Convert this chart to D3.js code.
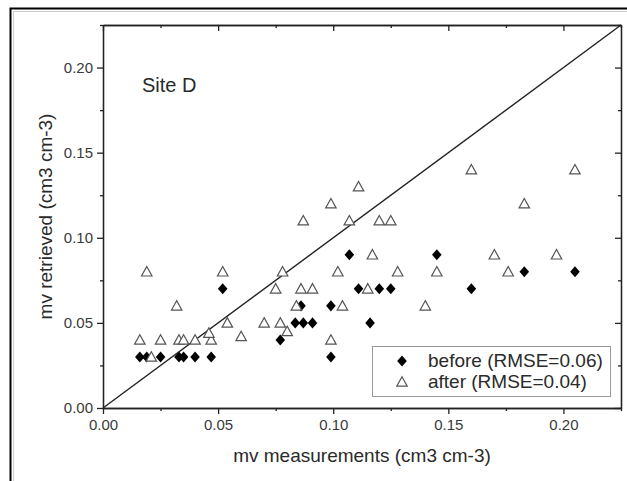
<!DOCTYPE html>
<html lang="en">
<head>
    <meta charset="UTF-8">
    <title>Site D - mv retrieved vs measured</title>
    <script src="https://d3js.org/d3.v7.min.js"></script>
    <style>
        body { margin: 0; background: #fff; }
        svg { display: block; font-family: "Liberation Sans", Arial, sans-serif; }
        .axis path, .axis line { stroke: #222; stroke-width: 1.3; }
        .axis text { fill: #3a3a3a; font-size: 15px; }
    </style>
</head>
<body>
<div id="chart"></div>

<script>
// before correction (filled diamonds)
const beforeMeasured  = [0.016, 0.019, 0.025, 0.033, 0.035, 0.040, 0.047, 0.099,
                         0.077,
                         0.0835, 0.087, 0.091, 0.116,
                         0.086, 0.099,
                         0.052, 0.111, 0.120, 0.125, 0.160,
                         0.183, 0.205,
                         0.107, 0.145];
const beforeRetrieved = [0.03, 0.03, 0.03, 0.03, 0.03, 0.03, 0.03, 0.03,
                         0.04,
                         0.05, 0.05, 0.05, 0.05,
                         0.06, 0.06,
                         0.07, 0.07, 0.07, 0.07, 0.07,
                         0.08, 0.08,
                         0.09, 0.09];

// after correction (open triangles)
const afterMeasured  = [0.021,
                        0.016, 0.025, 0.033, 0.035, 0.040, 0.047, 0.099,
                        0.060,
                        0.080, 0.046,
                        0.054, 0.070, 0.077,
                        0.032, 0.084, 0.104, 0.140,
                        0.075, 0.086, 0.091, 0.115,
                        0.019, 0.052, 0.078, 0.102, 0.128, 0.145, 0.176,
                        0.117, 0.170, 0.197,
                        0.087, 0.107, 0.120, 0.125,
                        0.099, 0.183,
                        0.111,
                        0.160, 0.205];
const afterRetrieved = [0.03,
                        0.04, 0.04, 0.04, 0.04, 0.04, 0.04, 0.04,
                        0.042,
                        0.045, 0.044,
                        0.05, 0.05, 0.05,
                        0.06, 0.06, 0.06, 0.06,
                        0.07, 0.07, 0.07, 0.07,
                        0.08, 0.08, 0.08, 0.08, 0.08, 0.08, 0.08,
                        0.09, 0.09, 0.09,
                        0.11, 0.11, 0.11, 0.11,
                        0.12, 0.12,
                        0.13,
                        0.14, 0.14];

const majorTicks = [0, 0.05, 0.10, 0.15, 0.20];
const minorTicks = [0.025, 0.075, 0.125, 0.175, 0.225];
const axisMax = 0.225;
const legendLabels = ["before (RMSE=0.06)", "after (RMSE=0.04)"];

const W = 627, H = 481;
const margin = {top: 25, right: 6, bottom: 73, left: 103};
const width = W - margin.left - margin.right;
const height = H - margin.top - margin.bottom;

const svg = d3.select("#chart").append("svg")
    .attr("width", W)
    .attr("height", H);

// outer figure frame
svg.append("path")
    .attr("d", `M10.5,${H} V8.5 H${W}`)
    .attr("fill", "none").attr("stroke", "#000").attr("stroke-width", 2);
svg.append("path")
    .attr("d", `M13.5,${H} V11.5 H${W}`)
    .attr("fill", "none").attr("stroke", "#ccc").attr("stroke-width", 1);

const g = svg.append("g").attr("transform", `translate(${margin.left},${margin.top})`);

const x = d3.scaleLinear().domain([0, axisMax]).range([0, width]);
const y = d3.scaleLinear().domain([0, axisMax]).range([height, 0]);
const fmt = d3.format(".2f");

// bottom + left: outward ticks with labels
g.append("g").attr("class", "axis")
    .attr("transform", `translate(0,${height})`)
    .call(d3.axisBottom(x).tickValues(majorTicks).tickFormat(fmt).tickSize(6).tickSizeOuter(0).tickPadding(5));
g.append("g").attr("class", "axis")
    .attr("transform", `translate(0,${height})`)
    .call(d3.axisBottom(x).tickValues(minorTicks).tickFormat("").tickSize(3).tickSizeOuter(0));

g.append("g").attr("class", "axis")
    .call(d3.axisLeft(y).tickValues(majorTicks).tickFormat(fmt).tickSize(6).tickSizeOuter(0).tickPadding(4));
g.append("g").attr("class", "axis")
    .call(d3.axisLeft(y).tickValues(minorTicks).tickFormat("").tickSize(3).tickSizeOuter(0));

// top + right: inward ticks, no labels
g.append("g").attr("class", "axis")
    .call(d3.axisTop(x).tickValues(majorTicks).tickFormat("").tickSize(-6).tickSizeOuter(0));
g.append("g").attr("class", "axis")
    .call(d3.axisTop(x).tickValues(minorTicks).tickFormat("").tickSize(-3).tickSizeOuter(0));
g.append("g").attr("class", "axis")
    .attr("transform", `translate(${width},0)`)
    .call(d3.axisRight(y).tickValues(majorTicks).tickFormat("").tickSize(-6).tickSizeOuter(0));
g.append("g").attr("class", "axis")
    .attr("transform", `translate(${width},0)`)
    .call(d3.axisRight(y).tickValues(minorTicks).tickFormat("").tickSize(-3).tickSizeOuter(0));

// 1:1 line
g.append("path")
    .datum([[0, 0], [axisMax, axisMax]])
    .attr("d", d3.line().x(d => x(d[0])).y(d => y(d[1])))
    .attr("fill", "none").attr("stroke", "#222").attr("stroke-width", 1.4);

// custom marker shapes
const diamondShape = {
    draw(ctx, size) {
        const r = Math.sqrt(size) / 2;
        ctx.moveTo(0, -r * 1.15); ctx.lineTo(r, 0); ctx.lineTo(0, r * 1.15); ctx.lineTo(-r, 0); ctx.closePath();
    }
};
const triangleShape = {
    draw(ctx, size) {
        const r = Math.sqrt(size) / 2;
        ctx.moveTo(0, -r); ctx.lineTo(r, r * 0.8); ctx.lineTo(-r, r * 0.8); ctx.closePath();
    }
};
const diamond = d3.symbol().type(diamondShape).size(92);
const triangle = d3.symbol().type(triangleShape).size(110);

g.append("g").selectAll("path")
    .data(d3.zip(beforeMeasured, beforeRetrieved))
    .join("path")
    .attr("d", diamond)
    .attr("transform", d => `translate(${x(d[0])},${y(d[1])})`)
    .attr("fill", "#000");

g.append("g").selectAll("path")
    .data(d3.zip(afterMeasured, afterRetrieved))
    .join("path")
    .attr("d", triangle)
    .attr("transform", d => `translate(${x(d[0])},${y(d[1])})`)
    .attr("fill", "#fff").attr("stroke", "#555").attr("stroke-width", 1.2);

// site label
g.append("text")
    .attr("x", 39).attr("y", 67)
    .attr("font-size", 20).attr("fill", "#2a2a2a")
    .text("Site D");

// legend
const legend = g.append("g").attr("transform", `translate(${372 - margin.left},${346 - margin.top})`);
legend.append("rect")
    .attr("x", 0.5).attr("y", 0.5).attr("width", 238).attr("height", 50)
    .attr("fill", "#fff").attr("stroke", "#999");
legend.append("path").attr("d", diamond).attr("transform", "translate(30,15)").attr("fill", "#000");
legend.append("path").attr("d", triangle).attr("transform", "translate(30,36)")
    .attr("fill", "#fff").attr("stroke", "#555").attr("stroke-width", 1.2);
legend.selectAll("text.lab")
    .data(legendLabels)
    .join("text")
    .attr("class", "lab")
    .attr("x", 56).attr("y", (d, i) => 21 + i * 21)
    .attr("font-size", 19).attr("fill", "#2a2a2a")
    .text(d => d);

// axis titles
svg.append("text")
    .attr("x", margin.left + width / 2).attr("y", 462)
    .attr("text-anchor", "middle").attr("font-size", 19).attr("fill", "#2a2a2a")
    .text("mv measurements (cm3 cm-3)");
svg.append("text")
    .attr("transform", `translate(52,${margin.top + height / 2}) rotate(-90)`)
    .attr("text-anchor", "middle").attr("font-size", 19).attr("fill", "#2a2a2a")
    .text("mv retrieved (cm3 cm-3)");
</script>
</body>
</html>
